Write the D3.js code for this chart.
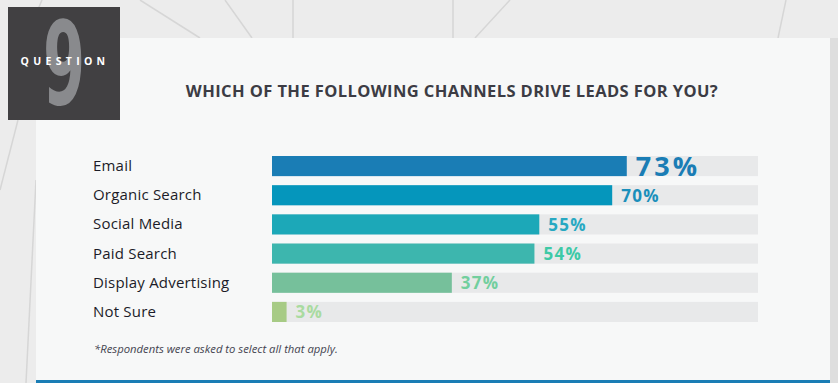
<!DOCTYPE html>
<html>
<head>
<meta charset="utf-8">
<script src="https://cdn.jsdelivr.net/npm/d3@7"></script>
<style>
  html, body { margin: 0; padding: 0; background: #ebebeb; }
  svg { display: block; }
</style>
</head>
<body>
<svg id="svg0" width="838" height="383"></svg>
<script>
// chart values
var categories = ["Email", "Organic Search", "Social Media", "Paid Search", "Display Advertising", "Not Sure"];
var values = [73, 70, 55, 54, 37, 3];
var barColors = ["#1a7db5", "#0596bc", "#1ca8b8", "#3db6ae", "#76c09b", "#a7cb85"];
var labelColors = ["#1a7db5", "#1a8fbb", "#27a8c2", "#3ec9a6", "#72cf9e", "#a9dba0"];
var title = "WHICH OF THE FOLLOWING CHANNELS DRIVE LEADS FOR YOU?";
var footnote = "*Respondents were asked to select all that apply.";

var vis = d3.select("#svg0");
var font = "Open Sans, Noto Sans";

// background with a few faint diagonal strokes
var bg = vis.append("g");
bg.append("rect").attr("width", 838).attr("height", 383).attr("fill", "#ececec");
var strokes = [[42, 0, 36, 14], [140, 0, 200, 38], [225, 0, 252, 38], [293, 0, 293, 38],
	[453, 0, 453, 38], [510, 0, 475, 38], [786, 0, 778, 38], [18, 120, 0, 190], [36, 180, 26, 383]];
bg.selectAll("line").data(strokes).enter().append("line")
	.attr("x1", d => d[0]).attr("y1", d => d[1])
	.attr("x2", d => d[2]).attr("y2", d => d[3])
	.attr("stroke", "#d6d6d6").attr("stroke-width", 1.5);
bg.append("rect").attr("x", 830).attr("y", 38).attr("width", 8).attr("height", 345).attr("fill", "#dedede");

// white panel
vis.append("rect").attr("x", 36).attr("y", 38).attr("width", 794).attr("height", 345).attr("fill", "#f7f8f8");
vis.append("rect").attr("x", 36).attr("y", 380).attr("width", 794).attr("height", 3).attr("fill", "#1a7db5");

// question badge
var badge = vis.append("g");
badge.append("rect").attr("x", 8).attr("y", 7).attr("width", 112).attr("height", 113).attr("fill", "#414042");
badge.append("text")
	.attr("transform", "translate(64,104) scale(0.58,1)")
	.attr("text-anchor", "middle")
	.attr("font-family", "DejaVu Sans Condensed, DejaVu Sans")
	.attr("font-weight", "bold")
	.attr("font-size", 116)
	.attr("fill", "#898a8d")
	.text("9");
badge.append("text")
	.attr("x", 65).attr("y", 65)
	.attr("text-anchor", "middle")
	.attr("font-family", font)
	.attr("font-weight", "bold")
	.attr("font-size", 10.5)
	.attr("letter-spacing", 4.3)
	.attr("fill", "#ffffff")
	.text("QUESTION");

// title
vis.append("text")
	.attr("x", 452).attr("y", 97)
	.attr("text-anchor", "middle")
	.attr("font-family", font)
	.attr("font-weight", "bold")
	.attr("font-size", 16.5)
	.attr("letter-spacing", 0.4)
	.attr("fill", "#3c3c44")
	.text(title);

// scales
var x = d3.scaleLinear().domain([0, 100]).range([272, 758]);
var y = d3.scaleBand().domain(categories).range([156, 322]).paddingInner(0.31).paddingOuter(0);

var rows = vis.append("g").selectAll("g").data(categories).enter().append("g");

rows.append("rect")
	.attr("x", x(0)).attr("y", d => y(d))
	.attr("width", x(100) - x(0)).attr("height", y.bandwidth())
	.attr("fill", "#e8e9ea");

rows.append("rect")
	.attr("x", x(0)).attr("y", d => y(d))
	.attr("width", (d, i) => x(values[i]) - x(0)).attr("height", y.bandwidth())
	.attr("fill", (d, i) => barColors[i]);

rows.append("text")
	.attr("x", 93).attr("y", d => y(d) + y.bandwidth() / 2 + 5)
	.attr("font-family", font)
	.attr("font-size", 15)
	.attr("letter-spacing", 0.2)
	.attr("fill", "#1c1c28")
	.text(d => d);

rows.append("text")
	.attr("x", (d, i) => x(values[i]) + 9)
	.attr("y", (d, i) => y(d) + y.bandwidth() / 2 + (i == 0 ? 10 : 6.5))
	.attr("font-family", font)
	.attr("font-weight", "bold")
	.attr("font-size", (d, i) => i == 0 ? 27 : 17)
	.attr("letter-spacing", (d, i) => i == 0 ? 3 : 1.3)
	.attr("fill", (d, i) => labelColors[i])
	.text((d, i) => values[i] + "%");

// footnote
vis.append("text")
	.attr("x", 94).attr("y", 353)
	.attr("font-family", font)
	.attr("font-style", "italic")
	.attr("font-size", 11.3)
	.attr("fill", "#444450")
	.text(footnote);
</script>
</body>
</html>
